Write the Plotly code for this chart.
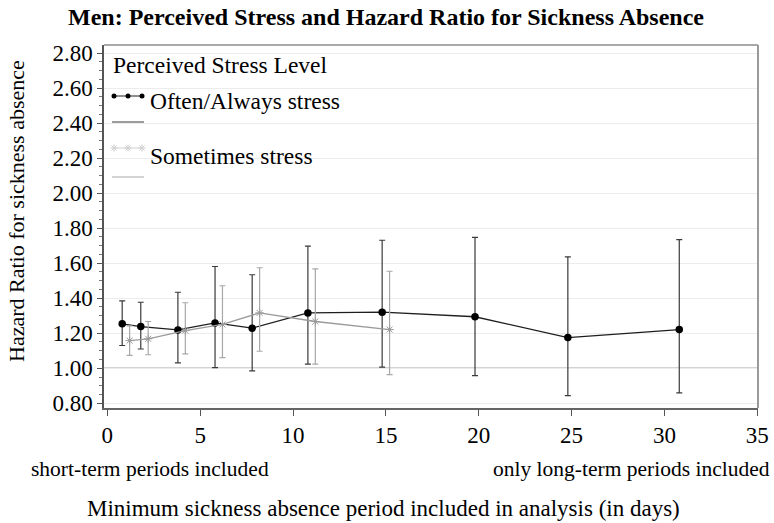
import plotly.graph_objects as go

# ---------------- data ----------------
periods = [1, 2, 4, 6, 8, 11, 15, 20, 25, 31]
often_hr = [1.254, 1.238, 1.219, 1.259, 1.229, 1.316, 1.320, 1.294, 1.175, 1.221]
often_lo = [1.130, 1.110, 1.031, 1.004, 0.985, 1.023, 1.006, 0.958, 0.844, 0.859]
often_hi = [1.385, 1.377, 1.434, 1.581, 1.534, 1.697, 1.731, 1.747, 1.636, 1.735]

some_periods = [1, 2, 4, 6, 8, 11, 15]
some_hr = [1.158, 1.168, 1.215, 1.250, 1.316, 1.267, 1.221]
some_lo = [1.073, 1.077, 1.082, 1.061, 1.097, 1.023, 0.964]
some_hi = [1.242, 1.267, 1.374, 1.471, 1.574, 1.568, 1.554]

x_ticks = [0, 5, 10, 15, 20, 25, 30, 35]
y_ticks = [0.8, 1.0, 1.2, 1.4, 1.6, 1.8, 2.0, 2.2, 2.4, 2.6, 2.8]

title_text = "Men: Perceived Stress and Hazard Ratio for Sickness Absence"
legend_title = "Perceived Stress Level"
name_often = "Often/Always stress"
name_some = "Sometimes stress"
x_title = "Minimum sickness absence period included in analysis (in days)"
y_title = "Hazard Ratio for sickness absence"
note_left = "short-term periods included"
note_right = "only long-term periods included"

# ---------------- layout constants ----------------
W, H = 774, 523
L, R, T, B = 104, 16, 45, 115
PW, PH = W - L - R, H - T - B
FONT = "Liberation Serif"
OFFSET = 0.2  # cluster offset of the two series


def px_x(p):  # page pixel -> overlay axis x
    return p - L


def px_y(p):  # page pixel -> overlay axis y
    return (T + PH) - p


def paper_x(p):
    return (p - L) / PW


def paper_y(p):
    return (T + PH - p) / PH


fig = go.Figure()

# Often/Always stress
fig.add_trace(go.Scatter(
    x=[p - OFFSET for p in periods], y=often_hr,
    mode="lines+markers",
    line=dict(color="#1e1e1e", width=1.3),
    marker=dict(symbol="circle", size=7.5, color="black"),
    error_y=dict(type="data", symmetric=False,
                 array=[h - v for h, v in zip(often_hi, often_hr)],
                 arrayminus=[v - l for v, l in zip(often_hr, often_lo)],
                 color="#3a3a3a", thickness=1.2, width=3),
    showlegend=False, name=name_often))

# Sometimes stress
fig.add_trace(go.Scatter(
    x=[p + OFFSET for p in some_periods], y=some_hr,
    mode="lines+markers",
    line=dict(color="#9a9a9a", width=1.3),
    marker=dict(symbol="asterisk-open", size=7,
                line=dict(color="#9a9a9a", width=1)),
    error_y=dict(type="data", symmetric=False,
                 array=[h - v for h, v in zip(some_hi, some_hr)],
                 arrayminus=[v - l for v, l in zip(some_hr, some_lo)],
                 color="#a8a8a8", thickness=1.2, width=3),
    showlegend=False, name=name_some))

# ---------------- custom legend glyphs (overlay axes in pixels) ----------------
gx = [114, 128, 142]
fig.add_trace(go.Scatter(
    x=[px_x(v) for v in gx], y=[px_y(96)] * 3, xaxis="x2", yaxis="y2",
    mode="lines+markers", line=dict(color="#1e1e1e", width=1),
    marker=dict(symbol="circle", size=5, color="black"),
    showlegend=False, hoverinfo="skip"))
fig.add_trace(go.Scatter(
    x=[px_x(112), px_x(144)], y=[px_y(122)] * 2, xaxis="x2", yaxis="y2",
    mode="lines", line=dict(color="#3a3a3a", width=1),
    showlegend=False, hoverinfo="skip"))
fig.add_trace(go.Scatter(
    x=[px_x(v) for v in gx], y=[px_y(148)] * 3, xaxis="x2", yaxis="y2",
    mode="lines+markers", line=dict(color="#d0d0d0", width=1),
    marker=dict(symbol="asterisk-open", size=6, line=dict(color="#9a9a9a", width=1)),
    showlegend=False, hoverinfo="skip"))
fig.add_trace(go.Scatter(
    x=[px_x(112), px_x(144)], y=[px_y(177)] * 2, xaxis="x2", yaxis="y2",
    mode="lines", line=dict(color="#a8a8a8", width=1),
    showlegend=False, hoverinfo="skip"))

annotations = [
    dict(text=legend_title, x=paper_x(111), y=paper_y(65), xref="paper", yref="paper",
         xanchor="left", yanchor="middle", showarrow=False,
         font=dict(family=FONT, size=23.5, color="black")),
    dict(text=name_often, x=paper_x(148), y=paper_y(101), xref="paper", yref="paper",
         xanchor="left", yanchor="middle", showarrow=False,
         font=dict(family=FONT, size=23.5, color="black")),
    dict(text=name_some, x=paper_x(148), y=paper_y(156), xref="paper", yref="paper",
         xanchor="left", yanchor="middle", showarrow=False,
         font=dict(family=FONT, size=23.5, color="black")),
    dict(text=note_left, x=paper_x(29), y=paper_y(469), xref="paper", yref="paper",
         xanchor="left", yanchor="middle", showarrow=False,
         font=dict(family=FONT, size=21.5, color="black")),
    dict(text=note_right, x=paper_x(772), y=paper_y(469), xref="paper", yref="paper",
         xanchor="right", yanchor="middle", showarrow=False,
         font=dict(family=FONT, size=21.5, color="black")),
    dict(text=x_title, x=paper_x(383), y=paper_y(508), xref="paper", yref="paper",
         xanchor="center", yanchor="middle", showarrow=False,
         font=dict(family=FONT, size=23, color="black")),
    dict(text=y_title, x=paper_x(17), y=paper_y(211), xref="paper", yref="paper",
         xanchor="center", yanchor="middle", showarrow=False, textangle=-90,
         font=dict(family=FONT, size=22, color="black")),
]

shapes = [
    # white legend background hiding gridlines
    dict(type="rect", xref="paper", yref="paper",
         x0=0, x1=paper_x(343), y0=paper_y(185), y1=1,
         fillcolor="white", line=dict(width=0), layer="between"),
    # reference line at HR = 1
    dict(type="line", xref="paper", yref="y", x0=0, x1=1, y0=1.0, y1=1.0,
         line=dict(color="#a8a8a8", width=1.5), layer="between"),
    # top and right frame
    dict(type="line", xref="paper", yref="paper", x0=0, x1=1, y0=1, y1=1,
         line=dict(color="#8c8c8c", width=1.5)),
    dict(type="line", xref="paper", yref="paper", x0=1, x1=1, y0=0, y1=1,
         line=dict(color="#9a9a9a", width=2)),
]

fig.update_layout(
    width=W, height=H,
    margin=dict(l=L, r=R, t=T, b=B, autoexpand=False),
    paper_bgcolor="white", plot_bgcolor="white",
    font=dict(family=FONT, color="black"),
    title=dict(text="<b>" + title_text + "</b>", x=386 / W, y=1 - 17 / H,
               xanchor="center", yanchor="middle", xref="container", yref="container",
               font=dict(family=FONT, size=24, color="black")),
    xaxis=dict(range=[-0.18, 35.04], tickvals=x_ticks, ticktext=[str(v) for v in x_ticks],
               ticks="outside", ticklen=6, tickcolor="#555", tickwidth=1,
               showline=True, linecolor="#666", linewidth=1.5,
               showgrid=False, zeroline=False,
               tickfont=dict(family=FONT, size=23, color="black")),
    yaxis=dict(range=[0.773, 2.846], tickvals=y_ticks, tickformat=".2f",
               ticks="outside", ticklen=5, tickcolor="#555", tickwidth=1,
               minor=dict(dtick=0.05, tick0=0.8, ticks="outside", ticklen=3,
                          tickcolor="#777", showgrid=False),
               showline=True, linecolor="#555", linewidth=1.5,
               showgrid=True, gridcolor="#ececec", gridwidth=1, zeroline=False,
               tickfont=dict(family=FONT, size=23, color="black")),
    xaxis2=dict(range=[0, PW], overlaying="x", anchor="y2", visible=False,
                fixedrange=True),
    yaxis2=dict(range=[0, PH], overlaying="y", anchor="x2", visible=False,
                fixedrange=True),
    annotations=annotations,
    shapes=shapes,
)

fig.write_html("out.html", config={"displayModeBar": False},
               post_script="document.body.style.margin='0';document.body.style.overflow='hidden';")
